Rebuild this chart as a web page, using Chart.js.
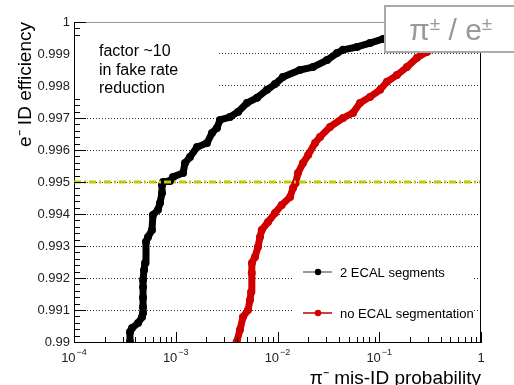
<!DOCTYPE html>
<html><head><meta charset="utf-8">
<script src="https://cdn.jsdelivr.net/npm/chart.js@4/dist/chart.umd.min.js"></script>
<style>html,body{margin:0;padding:0;background:#fff}#wrap{width:514px;height:385px}</style>
</head><body><div id="wrap"><canvas id="c" width="514" height="385"></canvas></div>
<script>
// ---- data ----
const seriesNames = ['2 ECAL segments', 'no ECAL segmentation'];
const ecal2MisId = [3.55e-4, 3.55e-4, 3.72e-4, 4.26e-4, 4.66e-4, 4.77e-4, 4.77e-4, 4.77e-4, 4.77e-4, 4.77e-4, 4.88e-4, 4.99e-4, 5.10e-4, 5.34e-4, 5.84e-4, 5.97e-4, 6.69e-4, 7.00e-4, 7.33e-4, 7.33e-4, 7.50e-4, 8.78e-4, 9.40e-4, 1.18e-3, 1.233e-3, 1.38e-3, 1.62e-3, 2.03e-3, 2.27e-3, 2.54e-3, 2.72e-3, 3.41e-3, 4.09e-3, 5.01e-3, 6.29e-3, 7.89e-3, 9.45e-3, 0.0113, 0.0166, 0.0223, 0.0307, 0.0385, 0.0441, 0.0604, 0.0811, 0.109, 0.160, 0.251];
const ecal2Eff = [0.9900, 0.99031, 0.99044, 0.99059, 0.99078, 0.99091, 0.99109, 0.99138, 0.99172, 0.99194, 0.99225, 0.99247, 0.99313, 0.99328, 0.99350, 0.99397, 0.99413, 0.99434, 0.99466, 0.99491, 0.99500, 0.99503, 0.99516, 0.99528, 0.99559, 0.99578, 0.99609, 0.99622, 0.99653, 0.99669, 0.99694, 0.99703, 0.99719, 0.99747, 0.99763, 0.99788, 0.99806, 0.99828, 0.99850, 0.99859, 0.99881, 0.99903, 0.99913, 0.99922, 0.99934, 0.99947, 0.99956, 0.99969];
const noSegMisId = [3.97e-3, 4.28e-3, 4.58e-3, 5.13e-3, 5.37e-3, 5.50e-3, 5.58e-3, 5.61e-3, 6.01e-3, 6.43e-3, 6.73e-3, 7.00e-3, 8.07e-3, 9.45e-3, 0.0110, 0.0133, 0.0142, 0.0151, 0.0159, 0.0178, 0.0200, 0.0234, 0.0262, 0.0328, 0.0441, 0.0552, 0.0647, 0.0811, 0.102, 0.119, 0.149, 0.187, 0.235, 0.294, 0.337, 0.42];
const noSegEff = [0.9900, 0.99038, 0.99078, 0.99100, 0.99131, 0.99156, 0.99216, 0.99247, 0.99266, 0.99297, 0.99328, 0.99350, 0.99375, 0.99403, 0.99428, 0.99453, 0.99481, 0.99497, 0.99528, 0.99559, 0.99584, 0.99622, 0.99641, 0.99672, 0.99700, 0.99716, 0.99747, 0.99766, 0.99788, 0.99813, 0.99834, 0.99859, 0.99888, 0.99906, 0.99919, 0.9994];
const refEff = 0.995;
const xTickValues = [1e-4, 1e-3, 1e-2, 1e-1, 1];
const xTickBase = ['10', '10', '10', '10', '1'];
const xTickExp = ['\u22124', '\u22123', '\u22122', '\u22121', ''];
const yTickValues = [0.99, 0.991, 0.992, 0.993, 0.994, 0.995, 0.996, 0.997, 0.998, 0.999, 1];
const yTickLabels = ['0.99', '0.991', '0.992', '0.993', '0.994', '0.995', '0.996', '0.997', '0.998', '0.999', '1'];
const noteLines = ['factor ~10', 'in fake rate', 'reduction'];
const boxTitleParts = [['\u03C0', 0], ['\u00B1', 1], [' / e', 0], ['\u00B1', 1]];
const xTitle = '\u03C0\u207B mis-ID probability';
const yTitle = 'e\u207B ID efficiency';

const FONT = '"Liberation Sans", Arial, Helvetica, sans-serif';
const colors = ['#000000', '#d00000'];
const legendLineColors = ['#777777', '#c00000'];

const decor = {
  id: 'decor',
  afterDatasetsDraw(chart) {
    const {ctx, chartArea: a, scales: {x, y}} = chart;
    ctx.save();
    // frame top / right
    ctx.lineWidth = 1;
    ctx.strokeStyle = '#999';
    ctx.beginPath(); ctx.moveTo(a.left, a.top + 0.5); ctx.lineTo(a.right, a.top + 0.5); ctx.stroke();
    ctx.strokeStyle = '#000';
    ctx.beginPath(); ctx.moveTo(a.right - 0.5, a.top); ctx.lineTo(a.right - 0.5, a.bottom); ctx.stroke();
    // inward y ticks
    ctx.beginPath();
    for (let i = 0; i < yTickValues.length; i++) {
      const py = Math.round(y.getPixelForValue(yTickValues[i])) + 0.5;
      ctx.moveTo(a.left, py); ctx.lineTo(a.left + 12, py);
      if (i < yTickValues.length - 1) {
        const v0 = yTickValues[i], v1 = yTickValues[i + 1];
        for (let k = 1; k < 5; k++) {
          const pm = Math.round(y.getPixelForValue(v0 + (v1 - v0) * k / 5)) + 0.5;
          ctx.moveTo(a.left, pm); ctx.lineTo(a.left + 6, pm);
        }
      }
    }
    // inward x ticks
    for (let i = 0; i < xTickValues.length; i++) {
      const px = Math.round(x.getPixelForValue(xTickValues[i])) + 0.5;
      ctx.moveTo(px, a.bottom); ctx.lineTo(px, a.bottom - 10);
      if (i < xTickValues.length - 1) {
        for (let m = 2; m < 10; m++) {
          const pm = Math.round(x.getPixelForValue(xTickValues[i] * m)) + 0.5;
          ctx.moveTo(pm, a.bottom); ctx.lineTo(pm, a.bottom - 5);
        }
      }
    }
    ctx.stroke();

    // x tick labels with superscripts
    ctx.fillStyle = '#222';
    ctx.textAlign = 'left'; ctx.textBaseline = 'alphabetic';
    for (let i = 0; i < xTickValues.length; i++) {
      const px = x.getPixelForValue(xTickValues[i]);
      ctx.font = '13px ' + FONT;
      const wb = ctx.measureText(xTickBase[i]).width;
      ctx.font = '9px ' + FONT;
      const we = xTickExp[i] ? ctx.measureText(xTickExp[i]).width + 1 : 0;
      const x0 = px - (wb + we) / 2;
      ctx.font = '13px ' + FONT;
      ctx.fillText(xTickBase[i], x0, 362);
      if (xTickExp[i]) { ctx.font = '9px ' + FONT; ctx.fillText(xTickExp[i], x0 + wb + 1, 355); }
    }

    // note text
    ctx.fillStyle = '#fff';
    ctx.fillRect(a.left + 1, 38, 144, 60);
    ctx.fillStyle = '#000';
    ctx.font = '16px ' + FONT;
    noteLines.forEach((t, i) => ctx.fillText(t, 99, 56 + i * 18.5));

    // legend
    ctx.fillStyle = '#fff';
    ctx.fillRect(293, 252, 180, 80);
    const legY = [272, 313];
    ctx.font = '13px ' + FONT;
    chart.data.datasets.slice(0, 2).forEach((ds, i) => {
      ctx.strokeStyle = legendLineColors[i]; ctx.lineWidth = 1.5;
      ctx.beginPath(); ctx.moveTo(303, legY[i]); ctx.lineTo(332, legY[i]); ctx.stroke();
      ctx.fillStyle = colors[i];
      ctx.beginPath(); ctx.arc(318, legY[i], 3.2, 0, Math.PI * 2); ctx.fill();
      ctx.fillStyle = '#000';
      ctx.fillText(ds.label, 340, legY[i] + 5);
    });

    // title box
    ctx.fillStyle = '#fff';
    ctx.fillRect(384, 5, 140, 47);
    ctx.strokeStyle = '#aaa'; ctx.lineWidth = 2;
    ctx.strokeRect(385, 6, 140, 46);
    ctx.fillStyle = '#999';
    let tx = 409;
    boxTitleParts.forEach(([t, sup]) => {
      ctx.font = (sup ? '19px ' : '30px ') + FONT;
      ctx.fillText(t, tx, sup ? 30 : 40);
      tx += ctx.measureText(t).width;
    });
    ctx.restore();
  }
};

new Chart(document.getElementById('c'), {
  type: 'line',
  data: {
    datasets: [
      { label: seriesNames[0], data: ecal2MisId.map((v, i) => ({x: v, y: ecal2Eff[i]})),
        borderColor: colors[0], backgroundColor: colors[0], borderWidth: 7, pointRadius: 4, pointBorderWidth: 0,
        borderJoinStyle: 'round', borderCapStyle: 'round', tension: 0, order: 2 },
      { label: seriesNames[1], data: noSegMisId.map((v, i) => ({x: v, y: noSegEff[i]})),
        borderColor: colors[1], backgroundColor: colors[1], borderWidth: 7, pointRadius: 4, pointBorderWidth: 0,
        borderJoinStyle: 'round', borderCapStyle: 'round', tension: 0, order: 1 },
      { label: 'ref', data: [{x: xTickValues[0], y: refEff}, {x: xTickValues[xTickValues.length - 1], y: refEff}],
        borderColor: '#c4c800', borderWidth: 3, borderDash: [7, 3, 2, 3], pointRadius: 0, order: 0 }
    ]
  },
  options: {
    responsive: false, animation: false, devicePixelRatio: 1,
    layout: {padding: {left: 0, right: 33, top: 22, bottom: 0}},
    plugins: {legend: {display: false}, tooltip: {enabled: false}},
    scales: {
      x: {
        type: 'logarithmic', min: xTickValues[0], max: xTickValues[xTickValues.length - 1],
        afterFit(s) { s.height = 43; },
        afterBuildTicks(s) { s.ticks = xTickValues.map(v => ({value: v})); },
        ticks: {callback: () => '', autoSkip: false, maxRotation: 0, minRotation: 0,
          font: {family: FONT, size: 13}, color: '#222', padding: 4},
        grid: {display: false, drawTicks: false},
        border: {color: '#000', width: 1},
        title: {display: true, text: xTitle, align: 'end', color: '#000',
          font: {family: FONT, size: 19, lineHeight: 0.7}, padding: 0}
      },
      y: {
        type: 'linear', min: yTickValues[0], max: yTickValues[yTickValues.length - 1],
        afterFit(s) { s.width = 74; },
        afterBuildTicks(s) { s.ticks = yTickValues.map(v => ({value: v})); },
        ticks: {callback: (v, i) => yTickLabels[i], autoSkip: false, font: {family: FONT, size: 13}, color: '#222', padding: 4},
        grid: {drawTicks: false, lineWidth: 1,
          color: c => (c.index === 0 || c.index === yTickValues.length - 1) ? 'rgba(0,0,0,0)' : '#333'},
        border: {color: '#000', width: 1, dash: [1, 2]},
        title: {display: true, text: yTitle, align: 'end', color: '#000',
          font: {family: FONT, size: 19, lineHeight: 1}, padding: {top: 16, bottom: 0}}
      }
    }
  },
  plugins: [decor]
});
</script>
</body></html>
